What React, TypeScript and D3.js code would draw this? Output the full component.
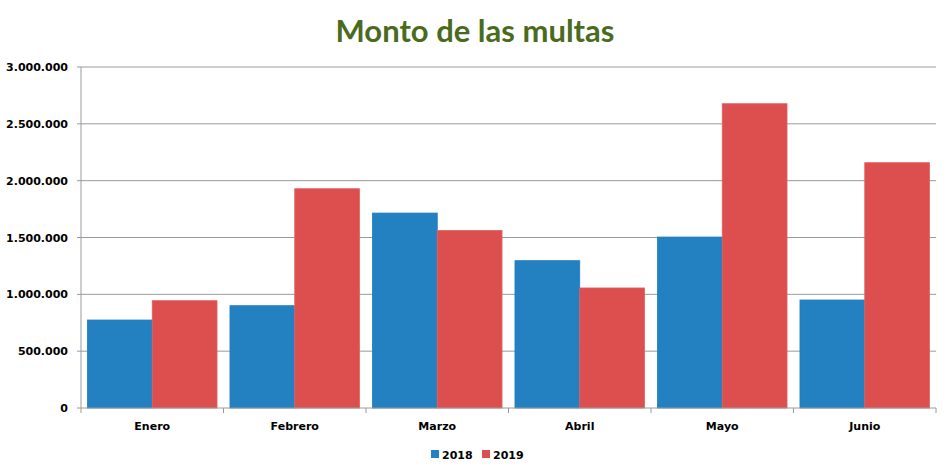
import React from "react";
import * as d3 from "d3";

const categories = ["Enero", "Febrero", "Marzo", "Abril", "Mayo", "Junio"];
const seriesNames = ["2018", "2019"];
const values2018 = [774000, 900000, 1715000, 1296000, 1504000, 950000];
const values2019 = [944000, 1929000, 1562000, 1056000, 2677000, 2158000];
const yTicks = [0, 500000, 1000000, 1500000, 2000000, 2500000, 3000000];
const colors = ["#2481C1", "#DD4F4E"];
const strokes = ["#1F7BC0", "#E06060"];

const W = 950, H = 475;
const left = 81, right = 936, top = 67, bottom = 408;

const fmt = (v: number) => (v === 0 ? "0" : d3.format(",")(v).replace(/,/g, "."));

export default function App() {
  const x = d3.scaleBand<string>().domain(categories).range([left, right]).paddingInner(0).paddingOuter(0);
  const inner = d3.scaleBand<string>().domain(seriesNames).range([0, x.bandwidth()]).paddingOuter(0.1).paddingInner(0);
  const y = d3.scaleLinear().domain([0, 3000000]).range([bottom, top]);
  const data = [values2018, values2019];
  const font = "'DejaVu Sans', Verdana, sans-serif";
  return (
    <svg width={W} height={H} style={{ position: "absolute", left: 0, top: 0, background: "#fff" }}>
      <text x={475} y={42} textAnchor="middle" fontFamily="Lato, 'Open Sans', sans-serif" fontWeight={700} fontSize={31} fill="#4A6B1E">
        Monto de las multas
      </text>
      {yTicks.map((t) => (
        <g key={t}>
          {t > 0 && <line x1={left} x2={right} y1={y(t)} y2={y(t)} stroke="#9A9A9A" strokeWidth={1} />}
          <line x1={left - 4} x2={left} y1={y(t)} y2={y(t)} stroke="#9A9A9A" />
          <text x={68} y={y(t) + 4} textAnchor="end" fontFamily={font} fontWeight={700} fontSize={11} fill="#000">
            {fmt(t)}
          </text>
        </g>
      ))}
      {categories.map((c, i) => (
        <g key={c}>
          {data.map((vals, s) => (
            <rect
              key={s}
              x={(x(c) as number) + (inner(seriesNames[s]) as number)}
              y={y(vals[i])}
              width={inner.bandwidth()}
              height={bottom - y(vals[i])}
              fill={colors[s]}
              stroke={strokes[s]}
              strokeWidth={0.8}
            />
          ))}
          <text x={(x(c) as number) + x.bandwidth() / 2} y={430} textAnchor="middle" fontFamily={font} fontWeight={700} fontSize={11} fill="#000">
            {c}
          </text>
        </g>
      ))}
      <line x1={left} x2={left} y1={top} y2={bottom} stroke="#9A9A9A" />
      <line x1={left} x2={right} y1={bottom} y2={bottom} stroke="#9A9A9A" />
      {d3.range(categories.length + 1).map((i) => {
        const xx = left + i * x.step();
        return <line key={i} x1={xx} x2={xx} y1={bottom} y2={bottom + 5} stroke="#9A9A9A" />;
      })}
      {seriesNames.map((s, i) => (
        <g key={s} transform={`translate(${431 + i * 51},0)`}>
          <rect x={0} y={450} width={8} height={8} fill={colors[i]} />
          <text x={11} y={458.5} fontFamily={font} fontWeight={700} fontSize={11} fill="#000">
            {s}
          </text>
        </g>
      ))}
    </svg>
  );
}
